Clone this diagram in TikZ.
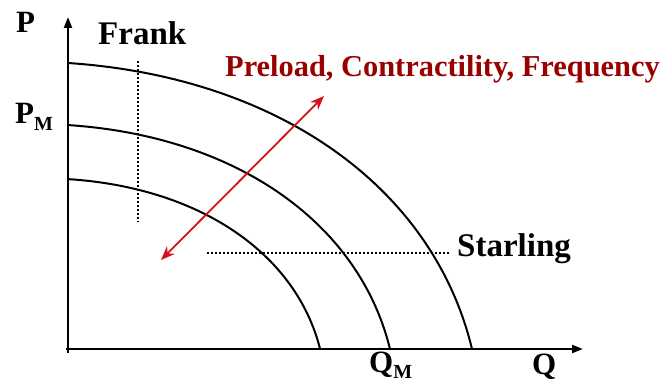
\documentclass[tikz,border=0pt]{standalone}
\usepackage{fontspec}
\setmainfont{Liberation Serif}
\usetikzlibrary{arrows.meta,positioning}
\definecolor{shiftred}{HTML}{D3111C}
\definecolor{labelred}{HTML}{990000}
\newcommand{\subM}{\raisebox{-0.22em}{\fontsize{20}{20}\selectfont M}}

\begin{document}
\begin{tikzpicture}[x=1pt,y=-1pt, every node/.style={inner sep=0pt,font=\bfseries\fontsize{31}{31}\selectfont}, big/.style={font=\bfseries\fontsize{33}{33}\selectfont}, axis/.style={line width=2.2pt,-{Triangle[length=11pt,width=8pt]}}, curve/.style={line width=2pt}, guide/.style={line width=1.8pt,dash pattern=on 1.8pt off 2.2pt}, shiftarrow/.style={{Stealth[length=14pt,width=11pt]}-{Stealth[length=14pt,width=11pt]},line width=1.8pt,draw=shiftred}]
\useasboundingbox (0,0) rectangle (665,385);
\coordinate (origin) at (68,349); \coordinate (ytip) at (68,17); \coordinate (xtip) at (583,349);
\draw[axis] (68,353)--(ytip); \draw[axis] (66,349)--(xtip);
% three function curves, scaled copies about the origin
\draw[curve,shift={(origin)}] (0,-286) .. controls (210,-272) and (365,-162) .. (404,0);
\draw[curve,shift={(origin)},xscale=0.797,yscale=0.783] (0,-286) .. controls (210,-272) and (365,-162) .. (404,0);
\draw[curve,shift={(origin)},xscale=0.624,yscale=0.594] (0,-286) .. controls (210,-272) and (365,-162) .. (404,0);
\coordinate (franktop) at (138,61); \coordinate (frankbot) at (138,222); \draw[guide] (franktop)--(frankbot);
\coordinate (starlingleft) at (207,253); \coordinate (starlingright) at (450,253); \draw[guide] (starlingleft)--(starlingright);
\coordinate (shiftup) at (324,96); \coordinate (shiftdown) at (161,260); \draw[shiftarrow] (shiftdown)--(shiftup);
\node (plabel) [anchor=base west] at (16,33) {P}; \node (pmlabel) [anchor=base west] at (15,124) {P\subM};
\node (qmlabel) [anchor=base west] at (369,372) {Q\subM}; \node (qlabel) [anchor=base west] at (532,374) {Q};
\node (frank) [big,anchor=base west] at (98,45) {Frank}; \node (starling) [big,anchor=base west] at (457,257) {Starling};
\node (shifters) [anchor=base west,text=labelred,font=\bfseries\fontsize{30.4}{30.4}\selectfont] at (225,77) {Preload, Contractility, Frequency};
\end{tikzpicture}
\end{document}
